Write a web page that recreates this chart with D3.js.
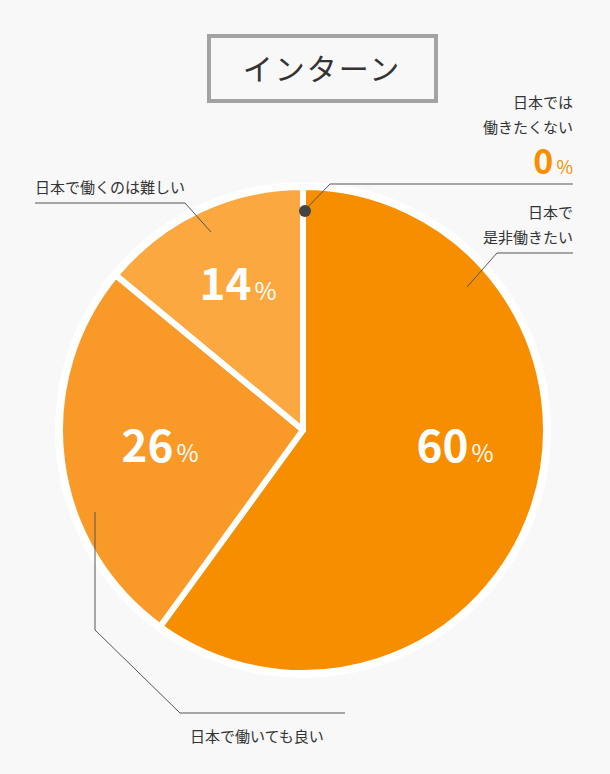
<!DOCTYPE html><html><head><meta charset="utf-8"><script src="https://cdn.jsdelivr.net/npm/d3@7"></script>
<style>body{margin:0;background:#f7f8f7}text{font-family:"Noto Sans CJK JP","Noto Sans",sans-serif}</style></head><body>
<svg id="c" width="610" height="774"></svg>
<script>
const categories=["日本で是非働きたい","日本で働いても良い","日本で働くのは難しい","日本では働きたくない"];
const values=[60,26,14,0];
const colors=["#f78e00","#f99a28","#fba840","#f78e00"];
const svg=d3.select("#c");
svg.append("rect").attr("width",610).attr("height",774).attr("fill","#f7f8f7");
svg.append("rect").attr("x",209).attr("y",36).attr("width",227).attr("height",65).attr("fill","none").attr("stroke","#a3a3a3").attr("stroke-width",4);
svg.append("text").attr("x",322).attr("y",80).attr("text-anchor","middle").attr("font-size",30).attr("fill","#333").attr("letter-spacing",2).text("インターン");
const cx=303,cy=430,r=243;
const pie=d3.pie().sort(null).value(d=>d)(values);
const arc=d3.arc().innerRadius(0).outerRadius(r);
const g=svg.append("g").attr("transform",`translate(${cx},${cy})`);
g.append("circle").attr("r",r+5).attr("fill","#fff");
g.selectAll("path").data(pie.filter(d=>d.value>0)).join("path").attr("d",arc).attr("fill",(d,i)=>colors[i]).attr("stroke","#fff").attr("stroke-width",6).attr("stroke-linejoin","round");
const lab=d3.arc().innerRadius(r*0.6).outerRadius(r*0.6);
const lpos=[[455,445],[160,445],[238,283]];
pie.filter(d=>d.value>0).forEach((d,i)=>{
 const t=svg.append("text").attr("x",lpos[i][0]).attr("y",lpos[i][1]+17).attr("text-anchor","middle").attr("fill","#fff");
 t.append("tspan").attr("font-size",44).attr("font-weight","bold").text(d.value);
 t.append("tspan").attr("font-size",24).attr("dx",3).text("%");
});
const ln=(pts)=>svg.append("path").attr("d",d3.line()(pts)).attr("fill","none").attr("stroke","#555").attr("stroke-width",1);
ln([[305,210],[330,184],[573,184]]);
svg.append("circle").attr("cx",305).attr("cy",211).attr("r",6).attr("fill","#444");
ln([[467,287],[497,253],[573,253]]);
ln([[35,203],[185,203],[211,232]]);
ln([[95,512],[95,630],[180,713],[345,713]]);
const txt=(x,y,s,a)=>svg.append("text").attr("x",x).attr("y",y).attr("text-anchor",a).attr("font-size",15).attr("fill","#333").text(s);
txt(573,108,"日本では","end");txt(573,133,"働きたくない","end");
const z=svg.append("text").attr("x",573).attr("y",174).attr("text-anchor","end").attr("fill","#f78e00");
z.append("tspan").attr("font-size",34).attr("font-weight","bold").text(values[3]);
z.append("tspan").attr("font-size",18).attr("dx",3).text("%");
txt(573,218,"日本で","end");txt(573,243,"是非働きたい","end");
txt(35,193,"日本で働くのは難しい","start");
txt(190,742,"日本で働いても良い","start");
</script></body></html>
